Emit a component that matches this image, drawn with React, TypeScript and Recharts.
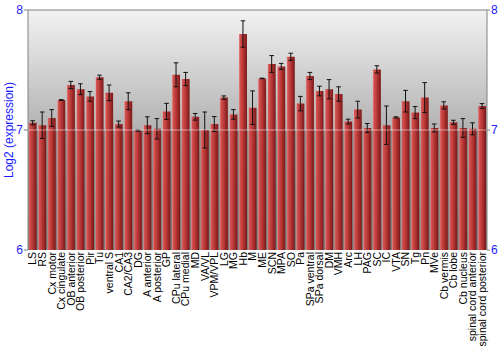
import React from 'react';
import { ComposedChart, Bar, XAxis, YAxis, ErrorBar, ReferenceLine, CartesianGrid } from 'recharts';

const regions = [
  'LS', 'RS', 'Cx motor', 'Cx cingulate', 'OB anterior', 'OB posterior', 'Pir', 'Tu',
  'ventral S', 'CA1', 'CA2/CA3', 'DG', 'A anterior', 'A posterior', 'GP', 'CPu lateral',
  'CPu medial', 'MD', 'VA/VL', 'VPM/VPL', 'LG', 'MG', 'Hb', 'M', 'ME', 'SCN', 'MPA', 'SO',
  'Pa', 'SPa ventral', 'SPa dorsal', 'DM', 'VMH', 'Arc', 'LH', 'PAG', 'SC', 'IC', 'VTA',
  'SN', 'Tg', 'Pn', 'MVe', 'Cb vermis', 'Cb lobe', 'Cb nucleus', 'spinal cord anterior',
  'spinal cord posterior',
];

const values = [
  7.06, 7.04, 7.10, 7.25, 7.375, 7.34, 7.28, 7.44,
  7.31, 7.05, 7.24, 6.995, 7.04, 7.01, 7.155, 7.46,
  7.425, 7.11, 7.0, 7.05, 7.27, 7.13, 7.80, 7.186, 7.43, 7.55, 7.53, 7.61,
  7.22, 7.45, 7.325, 7.34, 7.30, 7.07, 7.17, 7.017, 7.505, 7.04, 7.105,
  7.24, 7.145, 7.27, 7.017, 7.205, 7.064, 7.017, 7.01,
  7.20,
];

const errors = [
  0.017, 0.11, 0.07, 0.003, 0.03, 0.045, 0.04, 0.017,
  0.065, 0.025, 0.07, 0.005, 0.07, 0.085, 0.067, 0.10,
  0.055, 0.028, 0.15, 0.062, 0.014, 0.04, 0.11, 0.14, 0.002, 0.07, 0.025, 0.03,
  0.06, 0.03, 0.04, 0.08, 0.06, 0.02, 0.07, 0.037, 0.03, 0.16, 0.005,
  0.09, 0.05, 0.125, 0.033, 0.03, 0.017, 0.078, 0.05,
  0.02,
];

const yTicks = [6, 7, 8];

const data = regions.map((r, i) => ({ region: r, value: values[i], err: errors[i] }));

const FONT = 'Liberation Sans, Arial, sans-serif';

const XTick = (props: any) => {
  const { x, y, payload } = props;
  return (
    <text
      x={x}
      y={y}
      transform={`rotate(-90, ${x}, ${y})`}
      textAnchor="end"
      dy="0.35em"
      fontSize={10.5}
      fontFamily={FONT}
      fill="#000"
    >
      {payload.value}
    </text>
  );
};

export default function App() {
  return (
    <div style={{ position: 'absolute', left: 0, top: 0, width: 500, height: 350, background: '#fff' }}>
      <ComposedChart
        width={500}
        height={350}
        data={data}
        margin={{ top: 10, right: 0, bottom: 0, left: 0 }}
        barCategoryGap={0.6}
      >
        <defs>
          <linearGradient id="bgGrad" x1="0" y1="0" x2="0" y2="1">
            <stop offset="0" stopColor="#f2f2f2" />
            <stop offset="0.5" stopColor="#b2b2b2" />
            <stop offset="0.5" stopColor="#8c8c8c" />
            <stop offset="1" stopColor="#7c7c7c" />
          </linearGradient>
          <linearGradient id="barGrad" x1="0" y1="0" x2="1" y2="0">
            <stop offset="0" stopColor="#e69a98" />
            <stop offset="0.12" stopColor="#d25452" />
            <stop offset="0.45" stopColor="#bd3b3a" />
            <stop offset="1" stopColor="#7a1717" />
          </linearGradient>
        </defs>
        <CartesianGrid horizontal={false} vertical={false} fill="url(#bgGrad)" yAxisId="left" />
        <XAxis
          dataKey="region"
          interval={0}
          height={100}
          axisLine={false}
          tickLine={false}
          tickSize={0}
          tickMargin={2}
          tick={<XTick />}
        />
        <YAxis
          yAxisId="left"
          domain={[6, 8]}
          ticks={yTicks}
          width={28}
          allowDataOverflow
          stroke="#808080"
          tickSize={4}
          tickMargin={1}
          tick={{ fill: '#1a1aff', fontSize: 12, fontFamily: FONT }}
          label={{
            value: 'Log2 (expression)',
            angle: -90,
            position: 'insideLeft',
            offset: 9,
            style: { textAnchor: 'middle', fill: '#1a1aff', fontSize: 12, fontFamily: FONT },
          }}
        />
        <YAxis
          yAxisId="right"
          orientation="right"
          domain={[6, 8]}
          ticks={yTicks}
          width={13}
          allowDataOverflow
          stroke="#808080"
          tickSize={3}
          tickMargin={1}
          tick={{ fill: '#1a1aff', fontSize: 12, fontFamily: FONT }}
        />
        <Bar yAxisId="left" dataKey="value" fill="url(#barGrad)" isAnimationActive={false}>
          <ErrorBar dataKey="err" width={2.3} stroke="#111" strokeWidth={1} isAnimationActive={false} />
        </Bar>
        <ReferenceLine yAxisId="left" y={7} stroke="#ffffff" strokeOpacity={0.5} />
        <ReferenceLine yAxisId="left" y={8} stroke="#808080" />
      </ComposedChart>
    </div>
  );
}
